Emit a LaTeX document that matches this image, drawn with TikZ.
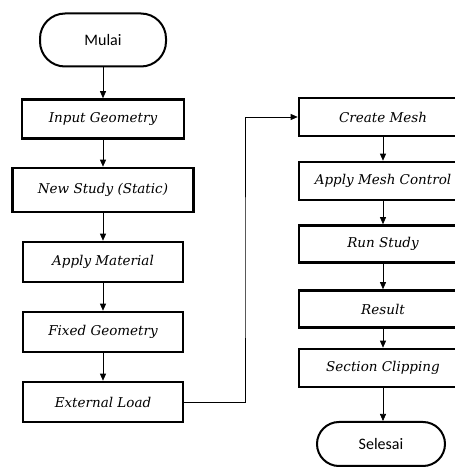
\documentclass[tikz,border=0pt]{standalone}
\usepackage{fontspec}
\usepackage{tikz}
\usetikzlibrary{shapes.geometric,arrows.meta}
\newfontfamily\stepfont{DejaVu Serif}
\newfontfamily\termfont{Carlito}
\tikzstyle{process} = [rectangle, minimum width=160pt, minimum height=40pt, text centered, draw=black, line width=2.6pt, font=\stepfont\itshape\fontsize{13.5}{15}\selectfont]
\tikzstyle{wide} = [process, minimum width=168pt, minimum height=37pt]
\tikzstyle{startstop} = [rectangle, rounded corners=22pt, minimum width=126pt, minimum height=46pt, text centered, draw=black, line width=2pt, font=\termfont\fontsize{16}{18}\selectfont]
\tikzstyle{arrow} = [line width=0.7pt,-{Triangle[length=7pt,width=6pt]}]

\begin{document}
\begin{tikzpicture}[x=1pt, y=1pt, node distance=71pt]
\useasboundingbox (0,0) rectangle (455,475);
\clip (0,0) rectangle (455,475);
\node (mulai) [startstop, minimum height=53pt, rounded corners=25pt] at (103,435) {Mulai};
\node (input) [process, minimum width=162pt, minimum height=39pt, below of=mulai, yshift=-8pt] {Input Geometry};
\node (newstudy) [process, minimum width=181pt, minimum height=44pt, below of=input] {New Study (Static)};
\node (material) [process, below of=newstudy, yshift=-1pt] {Apply Material};
\node (fixed) [process, below of=material, yshift=1pt] {Fixed Geometry};
\node (extload) [process, below of=fixed, yshift=1pt] {External Load};

\node (mesh) [wide, minimum height=38pt] at (383,358) {Create Mesh};
\node (meshctrl) [wide, minimum height=38pt, below of=mesh, yshift=7pt] {Apply Mesh Control};
\node (run) [wide, below of=meshctrl, yshift=8pt] {Run Study};
\node (result) [wide, below of=run, yshift=6pt] {Result};
\node (clipping) [wide, minimum height=38pt, below of=result, yshift=12pt] {Section Clipping};
\node (selesai) [startstop, minimum height=44pt, minimum width=128pt, below of=clipping, xshift=-2pt, yshift=-5pt] {Selesai};
\coordinate (jog) at (245,200);

\draw [arrow] (mulai) -- (input);
\draw [arrow] (input) -- (newstudy);
\draw [arrow] (newstudy) -- (material);
\draw [arrow] (material) -- (fixed);
\draw [arrow] (fixed) -- (extload);
\draw [arrow] (extload.east) -| (jog) |- (mesh.west);
\draw [arrow] (mesh) -- (meshctrl);
\draw [arrow] (meshctrl) -- (run);
\draw [arrow] (run) -- (result);
\draw [arrow] (result) -- (clipping);
\draw [arrow] (clipping.south) -- (clipping.south |- selesai.north);
\end{tikzpicture}
\end{document}
